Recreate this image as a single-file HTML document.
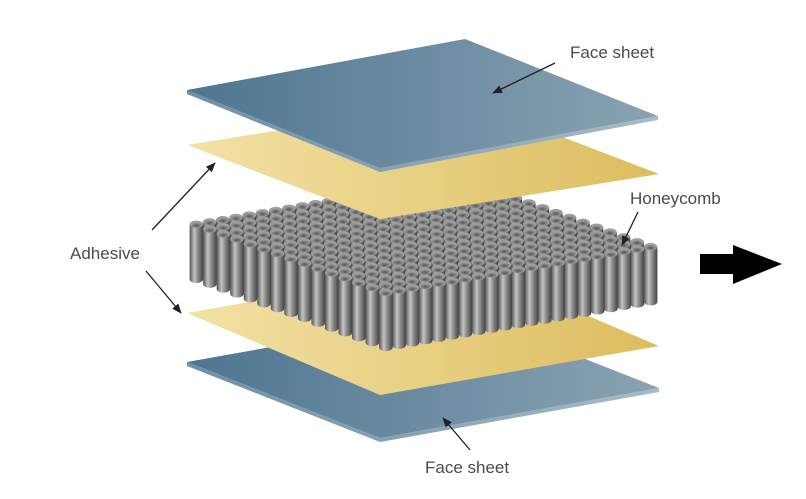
<!DOCTYPE html>
<html><head><meta charset="utf-8"><style>
html,body{margin:0;padding:0;background:#fff;width:806px;height:499px;overflow:hidden}
svg{display:block}
text{font-family:"Liberation Sans",sans-serif;font-size:17px;fill:#4a4a4a}
</style></head><body>
<svg id="s" width="806" height="499" viewBox="0 0 806 499" xmlns="http://www.w3.org/2000/svg">
<defs>
<linearGradient id="blue" x1="0" x2="1" y1="0" y2="0">
<stop offset="0" stop-color="#4f7591"/><stop offset="1" stop-color="#8aa3b3"/></linearGradient>
<linearGradient id="blueEdge" x1="0" x2="1"><stop offset="0" stop-color="#6f8fa6"/><stop offset="1" stop-color="#a7bac6"/></linearGradient>
<linearGradient id="gold" x1="0" x2="1" y1="0" y2="0">
<stop offset="0" stop-color="#f3e2a6"/><stop offset="1" stop-color="#dcbc5e"/></linearGradient>
<linearGradient id="cyl" x1="0" x2="1">
<stop offset="0" stop-color="#555"/><stop offset="0.35" stop-color="#c4c4c4"/><stop offset="0.6" stop-color="#8e8e8e"/><stop offset="1" stop-color="#444"/></linearGradient>
<radialGradient id="top" cx="0.5" cy="0.6" r="0.6">
<stop offset="0" stop-color="#555"/><stop offset="1" stop-color="#a8a8a8"/></radialGradient>
<marker id="ah" markerWidth="10" markerHeight="8" refX="9" refY="4" orient="auto" markerUnits="userSpaceOnUse">
<path d="M0,0 L10,4 L0,8 z" fill="#222"/></marker>
</defs>
<polygon points="187,362 380,438 659,388 659,392 380,442 187,366" fill="url(#blueEdge)"/>
<polygon points="187,362 466,312 659,388 380,438" fill="url(#blue)"/>
<polygon points="187,313 466,264 659,346 380,395" fill="url(#gold)"/>
<g id="hc"></g>
<polygon points="187,145 466,100 659,174 380,219" fill="url(#gold)"/>
<polygon points="187,90 380,168 658,116 658,120 380,172 187,94" fill="url(#blueEdge)"/>
<polygon points="187,90 465,39 658,116 380,168" fill="url(#blue)"/>
<text x="570" y="58">Face sheet</text>
<line x1="555" y1="63" x2="493" y2="93" stroke="#222" stroke-width="1.3" marker-end="url(#ah)"/>
<text x="630" y="204">Honeycomb</text>
<line x1="638" y1="212" x2="622" y2="245" stroke="#222" stroke-width="1.3" marker-end="url(#ah)"/>
<text x="70" y="259">Adhesive</text>
<line x1="152" y1="230" x2="215" y2="163" stroke="#222" stroke-width="1.3" marker-end="url(#ah)"/>
<line x1="146" y1="271" x2="181" y2="313" stroke="#222" stroke-width="1.3" marker-end="url(#ah)"/>
<text x="425" y="473">Face sheet</text>
<line x1="470" y1="450" x2="443" y2="418" stroke="#222" stroke-width="1.3" marker-end="url(#ah)"/>
<polygon points="700,254 733,254 733,245 782,264 733,284 733,274 700,274" fill="#000"/>
</svg>
<script>
(function(){
var g=document.getElementById('hc');
var L=[183,227],F=[386,300],R=[664,252];
var N1=15,N2=21;
var u=[(F[0]-L[0])/N1,(F[1]-L[1])/N1],v=[(R[0]-F[0])/N2,(R[1]-F[1])/N2];
var cells=[];
for(var i=0;i<N1;i++)for(var j=0;j<N2;j++){
var x=L[0]+(i+0.5)*u[0]+(j+0.5)*v[0],y=L[1]+(i+0.5)*u[1]+(j+0.5)*v[1]-4;
cells.push([x,y]);}
cells.sort(function(a,b){return a[1]-b[1];});
var H=55,r=6.8,ry=3.7,h='';
cells.forEach(function(c){
var x=c[0],y=c[1];
h+='<path d="M'+(x-r)+','+y+' L'+(x-r)+','+(y+H)+' A'+r+','+ry+' 0 0 0 '+(x+r)+','+(y+H)+' L'+(x+r)+','+y+' z" fill="url(#cyl)"/>';
h+='<ellipse cx="'+x+'" cy="'+y+'" rx="'+r+'" ry="'+ry+'" fill="#9c9c9c"/>';
h+='<ellipse cx="'+x+'" cy="'+(y+0.6)+'" rx="'+(r-1.2)+'" ry="'+(ry-0.9)+'" fill="url(#top)"/>';
});
g.innerHTML=h;
})();
</script>
</body></html>
